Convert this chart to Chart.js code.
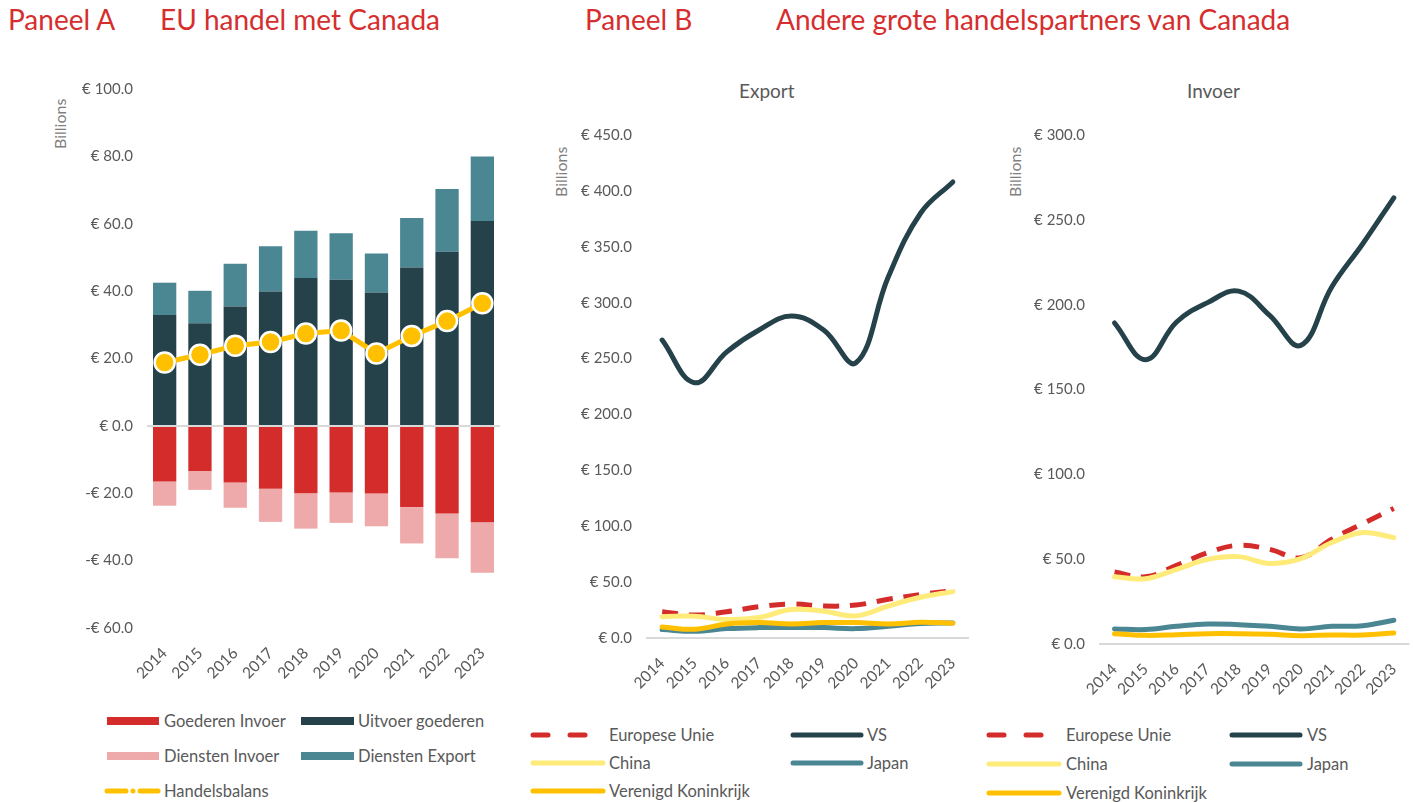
<!DOCTYPE html>
<html>
<head>
<meta charset="utf-8">
<script src="https://cdn.jsdelivr.net/npm/chart.js@4.4.1/dist/chart.umd.min.js"></script>
<style>
body{margin:0;width:1415px;height:803px;background:#fff;font-family:Lato,sans-serif;position:relative;overflow:hidden}
.abs{position:absolute;white-space:nowrap}
.head{color:#d62e2e;font-size:28px;top:2px}
.sub{color:#595959;font-size:19px;top:79px}
.unit{color:#7f7f7f;font-size:16px;transform:rotate(-90deg);transform-origin:left top;line-height:16px}
.leg{font-size:16.5px;color:#595959;line-height:20px}
canvas{position:absolute}
svg{position:absolute}
</style>
</head>
<body>
<div class="abs head" style="left:8px">Paneel A</div>
<div class="abs head" style="left:160px">EU handel met Canada</div>
<div class="abs head" style="left:585px">Paneel B</div>
<div class="abs head" style="left:776px">Andere grote handelspartners van Canada</div>
<div class="abs sub" style="left:739px">Export</div>
<div class="abs sub" style="left:1187px">Invoer</div>
<div class="abs unit" style="left:52px;top:149px">Billions</div>
<div class="abs unit" style="left:553px;top:197px">Billions</div>
<div class="abs unit" style="left:1007px;top:197px">Billions</div>

<canvas id="chartA" width="470" height="644" style="left:40px;top:66px"></canvas>
<canvas id="chartExp" width="445" height="640" style="left:530px;top:70px"></canvas>
<canvas id="chartInv" width="430" height="640" style="left:985px;top:70px"></canvas>
<div id="legends"></div>

<script>
// categories
var years = ['2014', '2015', '2016', '2017', '2018', '2019', '2020', '2021', '2022', '2023'];

// Paneel A - EU handel met Canada (billions EUR)
var goederenInvoer = [-16.5, -13.4, -16.8, -18.7, -20.0, -19.8, -20.1, -24.1, -26.0, -28.6];
var dienstenInvoer = [-7.2, -5.6, -7.5, -9.8, -10.5, -9.0, -9.7, -10.8, -13.3, -15.0];
var uitvoerGoederen = [32.9, 30.5, 35.4, 39.9, 43.9, 43.4, 39.6, 47.0, 51.7, 60.8];
var dienstenExport = [9.6, 9.6, 12.7, 13.4, 14.0, 13.8, 11.6, 14.7, 18.6, 19.2];
var handelsbalans = [18.8, 21.1, 23.8, 24.9, 27.4, 28.3, 21.5, 26.7, 31.1, 36.4];

// Paneel B - Export
var exportEU = [23.5, 20.5, 23.5, 28, 30.4, 28.6, 29.5, 34.6, 39, 42.4];
var exportVS = [266.5, 228.4, 256, 275.5, 288, 275.5, 246.2, 323, 380, 408];
var exportChina = [19, 19.5, 16.5, 18.3, 25.4, 24, 19.8, 28.6, 36.4, 41.5];
var exportJapan = [7.5, 6, 8.4, 9.3, 9.3, 9.3, 8.4, 10.5, 13, 13.5];
var exportVK = [9.9, 7.8, 12.5, 13.8, 12.6, 13.8, 13.8, 12.6, 14, 13.2];

// Paneel B - Invoer
var invoerEU = [42.4, 39.6, 46.3, 53.8, 58.2, 55.8, 50.9, 61.7, 71, 79.9];
var invoerVS = [189.2, 167.6, 189.8, 201.2, 208, 193.7, 176, 210.4, 235.9, 263];
var invoerChina = [39.6, 38.5, 44, 49.9, 51.5, 47.5, 50.3, 59.8, 65.7, 62.7];
var invoerJapan = [8.9, 8.5, 10.4, 11.8, 11.4, 10.4, 8.9, 10.4, 10.8, 14];
var invoerVK = [6.1, 5.1, 5.5, 6.1, 6.1, 5.7, 4.9, 5.3, 5.3, 6.5];

var RED = '#d42b2b', PINK = '#eeaaaa', DARK = '#25424a', TEAL = '#4b8693', GOLD = '#ffc000', LIGHT = '#ffeb7a';
var GREY = '#595959';

Chart.defaults.font.family = 'Lato, sans-serif';
Chart.defaults.font.size = 15;
Chart.defaults.color = GREY;
Chart.defaults.animation = false;
Chart.defaults.responsive = false;
Chart.defaults.plugins.legend.display = false;
Chart.defaults.plugins.tooltip.enabled = false;

function euro(v) {
    return (v < 0 ? '-' : '') + '€ ' + Math.abs(v).toFixed(1);
}

function yScale(min, max, step, w, extra) {
    var s = {
        min: min, max: max,
        ticks: { stepSize: step, padding: 14, callback: euro },
        grid: {
            drawTicks: false, lineWidth: 2,
            color: function (c) { return c.tick && c.tick.value === 0 ? '#d9d9d9' : 'rgba(0,0,0,0)'; }
        },
        border: { display: false },
        afterFit: function (scale) { scale.width = w; }
    };
    return Object.assign(s, extra || {});
}

function xScale(h, extra) {
    var s = {
        offset: true,
        ticks: { minRotation: 45, maxRotation: 45, padding: 8, autoSkip: false, font: { size: 15.5 } },
        grid: { display: false },
        border: { display: false },
        afterFit: function (scale) { scale.height = h; }
    };
    return Object.assign(s, extra || {});
}

new Chart(document.getElementById('chartA'), {
    type: 'bar',
    data: {
        labels: years,
        datasets: [
            { label: 'Goederen Invoer', data: goederenInvoer, backgroundColor: RED, order: 1 },
            { label: 'Uitvoer goederen', data: uitvoerGoederen, backgroundColor: DARK, order: 1 },
            { label: 'Diensten Invoer', data: dienstenInvoer, backgroundColor: PINK, order: 1 },
            { label: 'Diensten Export', data: dienstenExport, backgroundColor: TEAL, order: 1 },
            {
                type: 'line', label: 'Handelsbalans', data: handelsbalans, stack: 'balans', order: 0,
                borderColor: GOLD, borderWidth: 5, backgroundColor: GOLD,
                pointRadius: 10, pointBorderColor: '#fff', pointBorderWidth: 2.5, pointBackgroundColor: GOLD
            }
        ]
    },
    options: {
        layout: { autoPadding: false, padding: { top: 18, right: 10, left: 0, bottom: 0 } },
        datasets: { bar: { categoryPercentage: 1, barPercentage: 0.66, borderWidth: 0 } },
        scales: {
            x: xScale(82, { stacked: true }),
            y: yScale(-60, 100, 20, 107, { stacked: true })
        }
    }
});

function lineSets(eu, vs, china, japan, vk) {
    var base = { borderWidth: 5, pointRadius: 0, tension: 0.4, borderCapStyle: 'round', fill: false };
    return [
        Object.assign({ label: 'Europese Unie', data: eu, borderColor: RED, borderDash: [16, 11], order: 5 }, base, { borderCapStyle: 'butt' }),
        Object.assign({ label: 'VS', data: vs, borderColor: DARK, order: 4 }, base),
        Object.assign({ label: 'China', data: china, borderColor: LIGHT, order: 3 }, base),
        Object.assign({ label: 'Japan', data: japan, borderColor: TEAL, order: 2 }, base),
        Object.assign({ label: 'Verenigd Koninkrijk', data: vk, borderColor: GOLD, order: 1 }, base)
    ];
}

new Chart(document.getElementById('chartExp'), {
    type: 'line',
    data: { labels: years, datasets: lineSets(exportEU, exportVS, exportChina, exportJapan, exportVK) },
    options: {
        layout: { padding: { top: 65, right: 6, left: 0, bottom: 0 } },
        scales: { x: xScale(72), y: yScale(0, 450, 50, 116) }
    }
});

new Chart(document.getElementById('chartInv'), {
    type: 'line',
    data: { labels: years, datasets: lineSets(invoerEU, invoerVS, invoerChina, invoerJapan, invoerVK) },
    options: {
        layout: { padding: { top: 65, right: 1, left: 0, bottom: 0 } },
        scales: { x: xScale(66), y: yScale(0, 300, 50, 114) }
    }
});

// legends
var legends = document.getElementById('legends');
function legItem(x, y, w, swatch, textX, text) {
    var svg = '<svg style="left:' + x + 'px;top:' + (y - 10) + 'px" width="' + w + '" height="20">' + swatch + '</svg>';
    var lbl = '<div class="abs leg" style="left:' + textX + 'px;top:' + (y - 10) + 'px">' + text + '</div>';
    legends.insertAdjacentHTML('beforeend', svg + lbl);
}
function rectSw(col, w) { return '<rect x="0" y="6" width="' + w + '" height="8" fill="' + col + '"/>'; }
function lineSw(col, w) { return '<line x1="3" y1="10" x2="' + (w - 3) + '" y2="10" stroke="' + col + '" stroke-width="5" stroke-linecap="round"/>'; }
function dashSw(col, w) {
    return '<line x1="3" y1="10" x2="18" y2="10" stroke="' + col + '" stroke-width="5" stroke-linecap="round"/>' +
        '<line x1="40" y1="10" x2="55" y2="10" stroke="' + col + '" stroke-width="5" stroke-linecap="round"/>';
}

legItem(107, 721, 52, rectSw(RED, 52), 164, 'Goederen Invoer');
legItem(301, 721, 53, rectSw(DARK, 53), 358, 'Uitvoer goederen');
legItem(107, 756, 52, rectSw(PINK, 52), 164, 'Diensten Invoer');
legItem(301, 756, 53, rectSw(TEAL, 53), 358, 'Diensten Export');
legItem(104, 791, 57, '<line x1="3" y1="10" x2="22" y2="10" stroke="' + GOLD + '" stroke-width="5" stroke-linecap="round"/>' +
    '<circle cx="29" cy="10" r="2.5" fill="' + GOLD + '"/>' +
    '<line x1="36" y1="10" x2="54" y2="10" stroke="' + GOLD + '" stroke-width="5" stroke-linecap="round"/>', 164, 'Handelsbalans');

var legendCols = [
    { sx: 530, tx: 609, sx2: 790, tx2: 867, rows: [735, 763, 791] },
    { sx: 986, tx: 1066, sx2: 1229, tx2: 1307, rows: [735, 764, 793] }
];
legendCols.forEach(function (c) {
    legItem(c.sx, c.rows[0], 76, dashSw(RED, 76), c.tx, 'Europese Unie');
    legItem(c.sx2, c.rows[0], 74, lineSw(DARK, 74), c.tx2, 'VS');
    legItem(c.sx, c.rows[1], 76, lineSw(LIGHT, 76), c.tx, 'China');
    legItem(c.sx2, c.rows[1], 74, lineSw(TEAL, 74), c.tx2, 'Japan');
    legItem(c.sx, c.rows[2], 76, lineSw(GOLD, 76), c.tx, 'Verenigd Koninkrijk');
});
</script>
</body>
</html>
